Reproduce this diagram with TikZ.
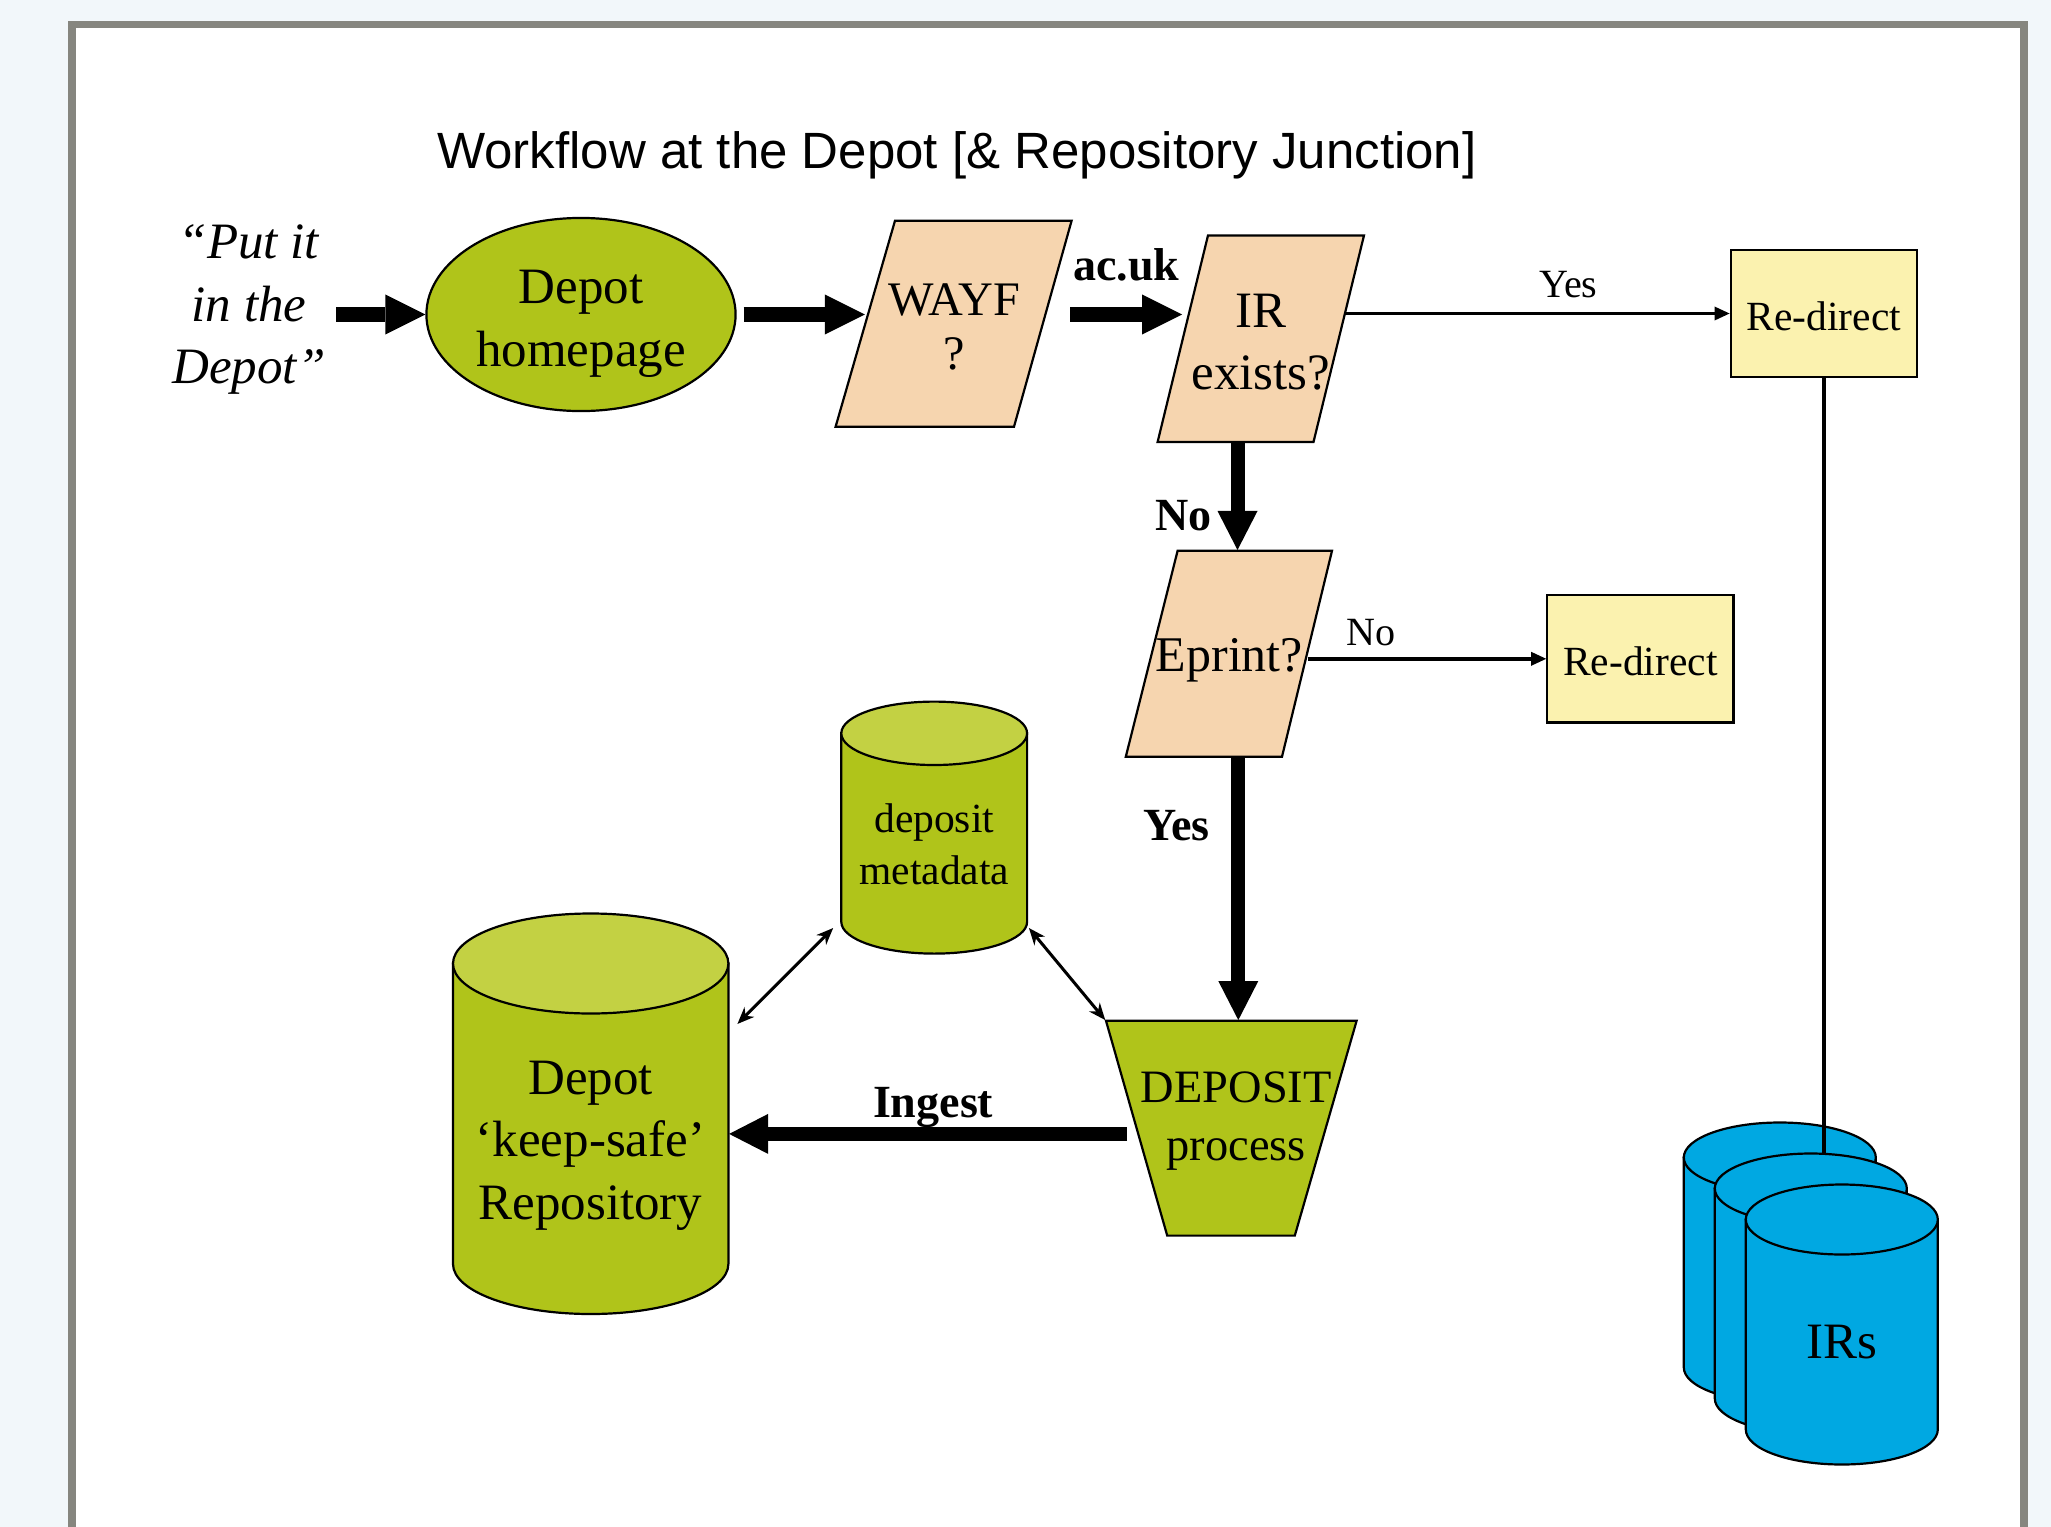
\documentclass[tikz,border=0pt]{standalone}
\usepackage{fontspec}
\setmainfont{Liberation Serif}
\newfontfamily\headsans{Liberation Sans}
\usetikzlibrary{arrows.meta,calc,shapes.geometric}
\definecolor{Olive}{HTML}{B0C41A}
\definecolor{OliveTop}{HTML}{C3D143}
\definecolor{Peach}{HTML}{F6D5AF}
\definecolor{Cream}{HTML}{FBF2AF}
\definecolor{Sky}{HTML}{00A8E2}
\definecolor{Frame}{HTML}{86867F}
\definecolor{Page}{HTML}{F2F7FA}
\tikzset{
 query/.style={draw, line width=0.022cm, fill=Peach},
 olivefill/.style={draw, line width=0.022cm, fill=Olive},
 olivetop/.style={draw, line width=0.022cm, fill=OliveTop},
 skyfill/.style={draw, line width=0.022cm, fill=Sky},
 textbox/.style={inner sep=0pt, align=center, font=\fontsize{14.5}{17.8}\selectfont},
 redirect/.style={draw, line width=0.022cm, fill=Cream, minimum width=1.862cm, minimum height=1.273cm, inner sep=0pt, text height=0.34cm, font=\fontsize{11.8}{14.8}\selectfont},
 bigarrow/.style={-{Triangle[length=0.40cm,width=0.40cm,line width=0pt]}, line width=0.14cm},
 droparrow/.style={-{Triangle[length=0.39cm,width=0.40cm,line width=0pt]}, line width=0.14cm},
 thinarrow/.style={-{Triangle[length=0.15cm,width=0.14cm,line width=0pt]}, line width=0.035cm},
 twoway/.style={{Stealth[length=0.17cm,width=0.14cm,line width=0pt]}-{Stealth[length=0.17cm,width=0.14cm,line width=0pt]}, line width=0.03cm},
 plainline/.style={line width=0.035cm},
 boldlabel/.style={font=\fontsize{13.1}{15}\selectfont\bfseries},
 thinlabel/.style={font=\fontsize{11.4}{13}\selectfont}
}
\begin{document}
\begin{tikzpicture}[x=0.01cm,y=-0.01cm]
\useasboundingbox (0,0) rectangle (2051,1527);
% page and frame
\fill[Page] (0,0) rectangle (2051,1527);
\fill[white] (72,24.5) rectangle (2024,1527);
\draw[Frame,line width=0.076cm] (72,1527) -- (72,24.5) -- (2024,24.5) -- (2024,1527);

% decision shapes
\filldraw[query] (895,220.7) -- (1071.6,220.7) -- (1014,426.7) -- (835.6,426.7) -- cycle;
\filldraw[query] (1208,235.4) -- (1364,235.4) -- (1313.5,442) -- (1157.6,442) -- cycle;
\filldraw[query] (1177.6,550.8) -- (1332,550.8) -- (1282,756.7) -- (1125.8,756.7) -- cycle;
\filldraw[olivefill] (1106,1020.8) -- (1356.6,1020.8) -- (1294.8,1235.6) -- (1167.2,1235.6) -- cycle;

% stores
\filldraw[olivefill] (841.3,733.3) -- (841.3,921.9) arc[start angle=180,end angle=0,x radius=92.9,y radius=31.7] -- (1027.1,733.3) -- cycle;
\filldraw[olivetop] (934.2,733.3) ellipse[x radius=92.9,y radius=31.7];
\filldraw[olivefill] (453,963.5) -- (453,1264) arc[start angle=180,end angle=0,x radius=137.7,y radius=50] -- (728.4,963.5) -- cycle;
\filldraw[olivetop] (590.7,963.5) ellipse[x radius=137.7,y radius=50];
\foreach \off in {0,31,62}{
 \filldraw[skyfill] (1683.8+\off,1157.5+\off) -- (1683.8+\off,1367.5+\off) arc[start angle=180,end angle=0,x radius=96,y radius=35] -- (1875.8+\off,1157.5+\off) -- cycle;
 \filldraw[skyfill] (1779.8+\off,1157.5+\off) ellipse[x radius=96,y radius=35];
}

% nodes
\node[anchor=base, font=\headsans\fontsize{14.5}{17}\selectfont] (title) at (957,168.3) {Workflow at the Depot [\& Repository Junction]};
\node[inner sep=0.1cm, align=center, font=\fontsize{14.5}{17.8}\selectfont\itshape] (put) at (249,309.6) {“Put it\\in the\\Depot”};
\node[ellipse, draw, line width=0.022cm, fill=Olive, minimum width=3.09cm, minimum height=1.93cm, inner sep=0pt, align=center, text height=1.15cm, font=\fontsize{14.5}{17.9}\selectfont] (home) at (581,314.5) {Depot\\homepage};
\node[textbox, minimum width=1.77cm, minimum height=2.06cm, font=\fontsize{13.7}{15.6}\selectfont] (wayf) at (954.2,327) {WAYF\\?};
\node[textbox, minimum width=1.56cm, minimum height=2.066cm, text height=1.03cm] (ir) at (1260.8,338.7) {IR\\exists?};
\node[textbox, minimum width=1.55cm, minimum height=2.06cm, text height=0.47cm, font=\fontsize{14.2}{17}\selectfont] (eprint) at (1229.4,653.75) {Eprint?};
\node[textbox, minimum width=2.506cm, minimum height=2.002cm, font=\fontsize{13.2}{16.3}\selectfont] (deposit) at (1236.3,1120.9) {DEPOSIT\\process};
\node[redirect] (redirect1) at (1823.8,313.5) {Re-direct};
\node[redirect] (redirect2) at (1640.4,658.8) {Re-direct};
\node[textbox, minimum width=1.86cm, font=\fontsize{11.8}{14.8}\selectfont] (meta) at (934.2,844) {deposit\\metadata};
\node[textbox, minimum width=2.757cm] (repo) at (590.5,1145.5) {Depot\\‘keep-safe’\\Repository};
\node[textbox] (irs) at (1841.8,1342.4) {IRs};

\coordinate (nofoot) at ($(ir.south)+(-23.3,0)$);
\coordinate (yesfoot) at ($(deposit.north)+(2,0)$);
\coordinate (ingestfoot) at ($(deposit.west)+(17,13)$);
\coordinate (irstop) at (1820.5,1153.3);

% connectors
\draw[bigarrow] (put.east |- home) -- (home.west);
\draw[bigarrow] ([xshift=0.07cm]home.east) -- (wayf.west |- home);
\draw[bigarrow] ($(wayf.east |- home)+(27,0)$) -- (ir.west |- home) node[midway, anchor=base, yshift=0.34cm, boldlabel] {ac.uk};
\draw[thinarrow] ($(ir.east |- redirect1)+(6,0)$) -- (redirect1.west) node[pos=0.58, anchor=base, yshift=0.16cm, thinlabel] {Yes};
\draw[plainline] (redirect1.south) -- (redirect1.south |- irstop);
\draw[droparrow] (nofoot) -- (nofoot |- eprint.north) node[pos=0.68, left=0.07cm, boldlabel] {No};
\draw[thinarrow] (eprint.east |- redirect2) -- (redirect2.west) node[pos=0.265, anchor=base, yshift=0.13cm, thinlabel] {No};
\draw[droparrow] (yesfoot |- eprint.south) -- (yesfoot) node[pos=0.26, left=0.10cm, boldlabel] {Yes};
\draw[droparrow] (ingestfoot) -- (ingestfoot -| repo.east) node[midway, anchor=base, xshift=0.05cm, yshift=0.166cm, boldlabel] {Ingest};
\draw[twoway] ([shift={(-0.073cm,-0.84cm)}]meta.west) -- ([shift={(0.083cm,1.215cm)}]repo.east);
\draw[twoway] ([shift={(0.01cm,-0.84cm)}]meta.east) -- ([xshift=-0.05cm]deposit.north west);
\end{tikzpicture}
\end{document}
